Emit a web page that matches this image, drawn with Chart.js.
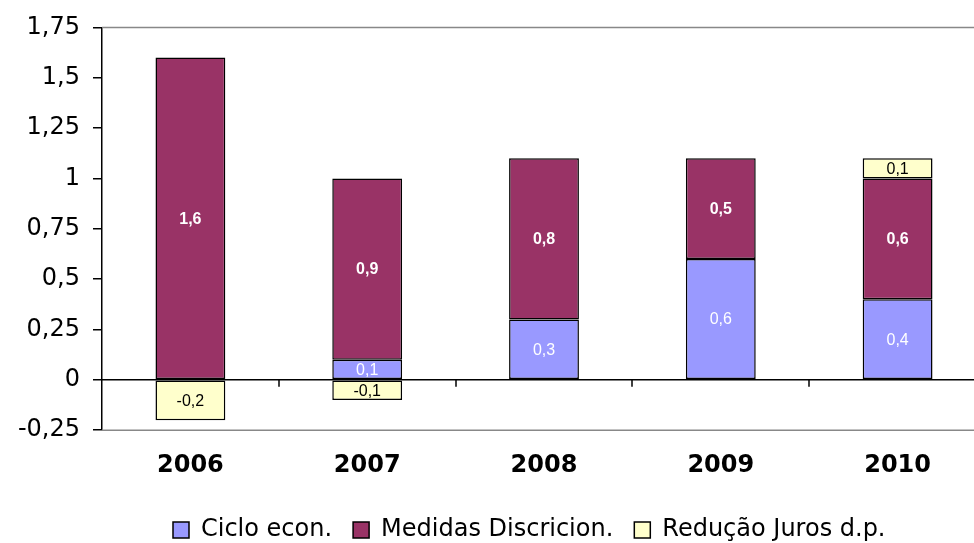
<!DOCTYPE html>
<html>
<head>
<meta charset="utf-8">
<script src="https://cdn.jsdelivr.net/npm/chart.js@4.4.0/dist/chart.umd.min.js"></script>
<style>
  html, body { margin: 0; padding: 0; background: #fff; overflow: hidden; }
  #wrap { width: 974px; height: 543px; overflow: hidden; position: relative; }
  #box { width: 990px; height: 543px; }
</style>
</head>
<body>
<div id="wrap"><div id="box"><canvas id="myChart"></canvas></div></div>
<script>
// data
var years = ['2006', '2007', '2008', '2009', '2010'];
var cicloEcon = [null, 0.1, 0.3, 0.6, 0.4];
var medidasDiscricion = [1.6, 0.9, 0.8, 0.5, 0.6];
var reducaoJuros = [-0.2, -0.1, null, null, 0.1];
var yTicks = [-0.25, 0, 0.25, 0.5, 0.75, 1, 1.25, 1.5, 1.75];

function comma(v) {
    return String(v).replace('.', ',');
}

// gray frame top/bottom of the plot area
const framePlugin = {
    id: 'frame',
    beforeDraw(chart) {
        // legend sits left of centre in the original, near the bottom edge
        const lg = chart.legend;
        const w = lg.right - lg.left;
        const h = lg.bottom - lg.top;
        lg.left = 173 - lg.options.labels.padding;
        lg.right = lg.left + w;
        lg.top = 543 - h + 9;
        lg.bottom = lg.top + h;
    },
    beforeDatasetsDraw(chart) {
        const a = chart.chartArea, ctx = chart.ctx;
        ctx.save();
        ctx.strokeStyle = '#888888';
        ctx.lineWidth = 1.5;
        ctx.beginPath();
        ctx.moveTo(a.left, a.top);
        ctx.lineTo(a.right, a.top);
        ctx.moveTo(a.left, a.bottom);
        ctx.lineTo(a.right, a.bottom);
        ctx.stroke();
        ctx.restore();
    }
};

// zero line with ticks between categories
const zeroLine = {
    id: 'zeroLine',
    afterDatasetsDraw(chart) {
        const a = chart.chartArea, ctx = chart.ctx;
        const x = chart.scales.x, y = chart.scales.y;
        const y0 = y.getPixelForValue(0);
        const step = x.getPixelForValue(1) - x.getPixelForValue(0);
        ctx.save();
        ctx.strokeStyle = '#000';
        ctx.lineWidth = 1.5;
        ctx.beginPath();
        ctx.moveTo(a.left, y0);
        ctx.lineTo(a.right, y0);
        for (let i = 1; i < years.length; i++) {
            const px = Math.round(x.getPixelForValue(i) - step / 2);
            ctx.moveTo(px, y0);
            ctx.lineTo(px, y0 + 7);
        }
        ctx.stroke();
        ctx.restore();
    }
};

// value labels inside the bars
const barLabels = {
    id: 'barLabels',
    afterDatasetsDraw(chart) {
        const ctx = chart.ctx;
        chart.data.datasets.forEach(function (ds, di) {
            const meta = chart.getDatasetMeta(di);
            meta.data.forEach(function (bar, i) {
                const v = ds.data[i];
                if (v === null || v === 0) return;
                const p = bar.getCenterPoint();
                ctx.save();
                ctx.font = ds.labelFont;
                ctx.fillStyle = ds.labelColor;
                ctx.textAlign = 'center';
                ctx.textBaseline = 'middle';
                ctx.fillText(comma(v), p.x, p.y + 1);
                ctx.restore();
            });
        });
    }
};

const data1 = {
    labels: years,
    datasets: [{
        label: 'Ciclo econ.',
        data: cicloEcon,
        backgroundColor: '#9999FF',
        labelColor: '#ffffff',
        labelFont: '16px "Liberation Sans", Arial, sans-serif'
    }, {
        label: 'Medidas Discricion.',
        data: medidasDiscricion,
        backgroundColor: '#993366',
        labelColor: '#ffffff',
        labelFont: 'bold 16px "Liberation Sans", Arial, sans-serif'
    }, {
        label: 'Redução Juros d.p.',
        data: reducaoJuros,
        backgroundColor: '#FFFFCC',
        labelColor: '#000000',
        labelFont: '16px "Liberation Sans", Arial, sans-serif'
    }]
};
data1.datasets.forEach(function (ds) {
    ds.borderColor = '#000';
    ds.borderWidth = 1.5;
    ds.borderSkipped = false;
    ds.barPercentage = 0.395;
    ds.categoryPercentage = 1;
});

const config = {
    type: 'bar',
    data: data1,
    plugins: [framePlugin, zeroLine, barLabels],
    options: {
        responsive: true,
        maintainAspectRatio: false,
        animation: false,
        layout: { padding: { top: 14, right: 4, bottom: -5, left: 0 } },
        plugins: {
            tooltip: { enabled: false },
            legend: {
                position: 'bottom',
                align: 'start',
                labels: {
                    color: '#000',
                    font: { family: '"DejaVu Sans", Verdana, sans-serif', size: 24 },
                    boxWidth: 16,
                    boxHeight: 16,
                    padding: 21,
                    useBorderRadius: false
                }
            }
        },
        scales: {
            x: {
                stacked: true,
                grid: { display: false },
                border: { display: false },
                ticks: {
                    color: '#000',
                    padding: 13,
                    font: { family: '"DejaVu Sans", Verdana, sans-serif', size: 24, weight: 'bold' }
                }
            },
            y: {
                stacked: true,
                min: -0.25,
                max: 1.75,
                afterBuildTicks: function (scale) {
                    scale.ticks = yTicks.map(function (v) { return { value: v }; });
                },
                afterFit: function (scale) { scale.width = 102; },
                grid: { drawOnChartArea: false, tickLength: 9, color: '#000', lineWidth: 1.5 },
                border: { color: '#000', width: 1.5 },
                ticks: {
                    color: '#000',
                    padding: 13,
                    font: { family: '"DejaVu Sans", Verdana, sans-serif', size: 24 },
                    callback: function (v) { return comma(v); }
                }
            }
        }
    }
};

const myChart = new Chart(document.getElementById('myChart'), config);
</script>
</body>
</html>
